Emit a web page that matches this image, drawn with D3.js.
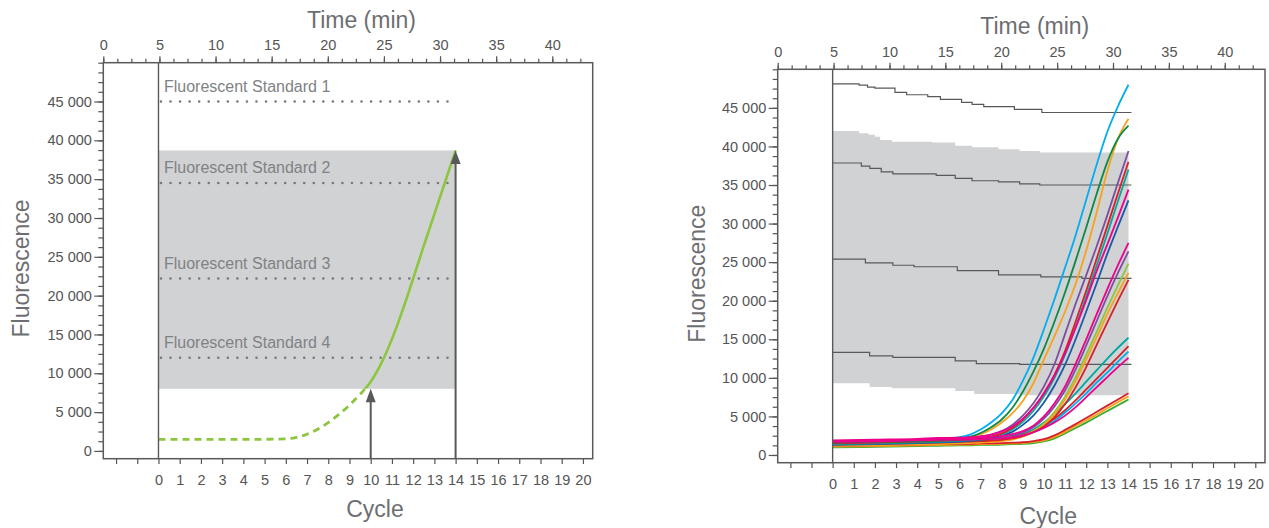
<!DOCTYPE html>
<html><head><meta charset="utf-8">
<script src="https://cdn.jsdelivr.net/npm/d3@7"></script>
<style>
body{margin:0;background:#fff;}
svg{display:block;font-family:"Liberation Sans",Arial,Helvetica,sans-serif;}
</style></head><body>
<svg id="chart" width="1269" height="528"></svg>
<script>
// ---------------- DATA ----------------
const timeMajorTicks = [0, 5, 10, 15, 20, 25, 30, 35, 40];
const timeMinorTicks = d3.range(0, 43.6, 1.25);
const fluorMajorTicks = [0, 5000, 10000, 15000, 20000, 25000, 30000, 35000, 40000, 45000];
const fluorMinorTicks = d3.range(0, 50001, 1250);
const cycleTicks = [-2, -1, 0, 1, 2, 3, 4, 5, 6, 7, 8, 9, 10, 11, 12, 13, 14, 15, 16, 17, 18, 19, 20];

// Left panel
const standardNames = ["Fluorescent Standard 1", "Fluorescent Standard 2", "Fluorescent Standard 3", "Fluorescent Standard 4"];
const standardLevels = [45000, 34500, 22200, 12000];
const acceptBand = [8000, 38700];          // grey band (fluorescence)
const bandCycles = [0, 14];                // grey band (cycles)
const greenCycles = [0, 1, 2, 3, 4, 5, 6, 6.5, 7, 7.5, 8, 8.5, 9, 9.5, 10, 10.5, 11, 11.5, 12, 12.5, 13, 13.5, 14];
const greenValues = [1500, 1500, 1480, 1480, 1490, 1500, 1550, 1750, 2150, 2800, 3650, 4700, 5900, 7300, 8900, 11300, 14400, 18100, 22200, 26400, 30500, 34600, 38700];
const arrowCycles = [10, 14];
const arrowTargets = [8000, 38700];

// Right panel: step lines (cycle, fluorescence)
const standard1Steps = [[0,48100],[1.25,47950],[1.65,47700],[2.0,47550],[2.95,47000],[3.5,46700],[4.5,46450],[5.1,46100],[6.1,45700],[6.6,45450],[7.15,45150],[8.6,44800],[9.9,44400],[14.14,44400]];
const standard2Steps = [[0,37850],[1.36,37450],[1.76,37150],[2.3,36700],[2.85,36450],[4.9,36250],[5.8,35850],[6.6,35550],[7.85,35400],[8.85,35150],[9.8,35000],[14.14,35000]];
const standard3Steps = [[0,25400],[1.55,24900],[2.85,24600],[3.85,24400],[5.9,23900],[7.85,23350],[9.85,23100],[11.8,22900],[14.14,22900]];
const standard4Steps = [[0,13300],[1.75,12850],[2.85,12650],[5.8,12200],[6.8,11850],[8.85,11750],[14.14,11750]];
const bandTopSteps = [[0,42000],[1.25,41700],[1.7,41500],[2.0,41250],[2.25,40850],[2.8,40600],[4.7,40500],[5.8,40100],[6.6,39900],[7.85,39650],[8.85,39400],[9.8,39200],[14,39200]];
const bandBottomSteps = [[0,9300],[1.75,8800],[2.8,8650],[5.8,8300],[6.7,7900],[8.85,7750],[14,7750]];

// Right panel: amplification curves
const curveCycles = [0, 2, 4, 5, 6, 6.5, 7, 7.5, 8, 8.5, 9, 9.5, 10, 10.5, 11, 11.5, 12, 12.5, 13, 13.5, 14];
const green5  = [1000,1050,1150,1200,1250,1250,1300,1300,1350,1400,1450,1550,1750,2150,2800,3500,4200,4950,5700,6450,7200];
const orange5 = [1100,1150,1250,1300,1350,1350,1400,1400,1450,1500,1550,1700,1900,2350,3000,3750,4500,5250,6050,6850,7600];
const red5    = [1200,1250,1350,1400,1450,1450,1500,1500,1550,1600,1650,1800,2050,2550,3250,4000,4800,5600,6400,7200,8000];
const teal4   = [1500,1550,1700,1750,1850,1900,1950,2000,2100,2300,2700,3300,4200,5300,6600,8000,9500,11000,12500,13900,15200];
const red4    = [1600,1650,1800,1850,1950,1950,2000,2050,2150,2300,2600,3100,3800,4700,5800,7100,8500,9900,11300,12700,14100];
const cyan4   = [1400,1450,1600,1650,1750,1800,1850,1900,2000,2200,2500,2950,3600,4400,5500,6700,8000,9400,10700,12100,13400];
const purple3 = [1600,1700,1800,1900,1950,2000,2050,2150,2250,2500,2900,3600,4700,6300,8400,11100,14200,17400,20600,23600,26400];
const lgreen3 = [1300,1350,1450,1500,1600,1650,1700,1800,1900,2100,2500,3100,4100,5600,7600,10100,13000,16000,19100,22000,24800];
const orange3 = [1200,1250,1350,1400,1500,1550,1600,1700,1800,2000,2400,3000,3900,5300,7200,9600,12400,15300,18300,21000,23600];
const red3    = [1400,1450,1550,1600,1700,1750,1800,1850,1950,2150,2450,2950,3700,4900,6600,8800,11400,14300,17200,20000,22700];
const purple2 = [1700,1800,1950,2050,2150,2250,2400,2650,3100,3900,5100,6700,8900,11800,15700,19600,23300,27100,31100,35300,39400];
const red2    = [1500,1600,1750,1850,1950,2050,2150,2400,2800,3500,4600,6100,8000,10400,13500,17300,21300,25500,29700,33900,38000];
const teal2   = [1400,1500,1650,1750,1850,1950,2050,2300,2700,3300,4300,5700,7600,10000,13000,16600,20500,24600,28700,32900,37000];
const blue2   = [1300,1400,1550,1650,1750,1850,1950,2150,2500,3000,3900,5100,6800,9000,11700,15000,18600,22300,26100,29600,33000];
const cyan1   = [1800,1900,2000,2100,2300,2650,3300,4200,5400,7100,9600,12600,16300,20200,24300,28500,33100,37700,41900,45200,48000];
const green1  = [1600,1700,1800,1900,2100,2350,2850,3600,4600,6100,8200,10800,13800,17300,21100,25200,29500,33900,38000,41000,42700];
const orange1 = [1700,1800,1900,2000,2150,2350,2700,3300,4200,5400,7000,9300,12400,15400,18600,22200,26500,31500,36800,41000,43600];
const magenta4 = [1700,1750,1900,1950,2000,2000,2050,2100,2150,2300,2550,2950,3500,4200,5100,6200,7500,8800,10100,11400,12600];
const magenta3 = [1800,1900,2000,2100,2150,2200,2250,2350,2450,2700,3100,3800,5000,6700,8900,11800,15000,18300,21500,24600,27500];
const magenta2 = [1900,2000,2100,2200,2250,2300,2400,2650,3050,3700,4700,6100,8000,10300,13200,16500,20100,23900,27300,30800,34400];

const rightSeries = [green5, orange5, red5, teal4, red4, cyan4, lgreen3, orange3, red3, purple3, blue2, teal2, red2, purple2, orange1, green1, cyan1, magenta4, magenta3, magenta2];
const rightColors = ["#3aaa35", "#f7a21b", "#d7202a", "#00a99d", "#d7202a", "#00aeef", "#8dc63f", "#f7a21b", "#d7202a", "#7d4e9e", "#1a5aa8", "#00a99d", "#d7202a", "#7d4e9e", "#f7a21b", "#0b8a46", "#00aeef", "#ec008c", "#ec008c", "#ec008c"];

// ---------------- LAYOUT ----------------
const svg = d3.select("#chart");
const TICK = "#555";
const LABEL = "#555";
const TITLE = "#6d6e71";
const GREY = "#d1d2d4";
const fmt = d => d3.format(",")(d).replace(/,/g, " ");

const panels = [
  {x0: 103.3, x1: 592.7, y0: 62.7, y1: 458.7, cycleTitleOff: 58, fluorTitleOff: 74.5},
  {x0: 777.7, x1: 1265, y0: 69.3, y1: 462.7, cycleTitleOff: 61, fluorTitleOff: 73}
];

function buildPanel(p) {
  const g = svg.append("g");
  const time = d3.scaleLinear().domain([0, 43.6]).range([p.x0, p.x1]);
  const cyc = d3.scaleLinear().domain([-2.6, 20.46]).range([p.x0, p.x1]);
  const y = d3.scaleLinear().domain([-1000, 50000]).range([p.y1, p.y0]);

  const styleAxis = sel => {
    sel.select(".domain").remove();
    sel.selectAll(".tick line").attr("stroke", TICK).attr("stroke-width", 1.2);
    sel.selectAll(".tick text").attr("fill", LABEL).style("font-size", "14.5px").style("font-family", "'Liberation Sans',Arial,sans-serif");
  };

  // top time axis
  g.append("g").attr("transform", `translate(0,${p.y0})`)
    .call(d3.axisTop(time).tickValues(timeMinorTicks).tickSize(4).tickFormat("")).call(styleAxis);
  g.append("g").attr("transform", `translate(0,${p.y0})`)
    .call(d3.axisTop(time).tickValues(timeMajorTicks).tickSize(6.5).tickPadding(6)).call(styleAxis);
  // left fluorescence axis
  g.append("g").attr("transform", `translate(${p.x0},0)`)
    .call(d3.axisLeft(y).tickValues(fluorMinorTicks).tickSize(5).tickFormat("")).call(styleAxis);
  g.append("g").attr("transform", `translate(${p.x0},0)`)
    .call(d3.axisLeft(y).tickValues(fluorMajorTicks).tickSize(9).tickPadding(2.4).tickFormat(fmt)).call(styleAxis);
  // bottom cycle axis
  g.append("g").attr("transform", `translate(0,${p.y1})`)
    .call(d3.axisBottom(cyc).tickValues(cycleTicks).tickSize(5.3).tickPadding(10.8).tickFormat(d => d >= 0 ? d : "")).call(styleAxis);

  // titles
  g.append("text").attr("x", time(23)).attr("y", p.y0 - 35).attr("text-anchor", "middle")
    .attr("fill", TITLE).style("font-size", "23px").text("Time (min)");
  g.append("text").attr("x", cyc(10.2)).attr("y", p.y1 + p.cycleTitleOff).attr("text-anchor", "middle")
    .attr("fill", TITLE).style("font-size", "23px").text("Cycle");
  g.append("text").attr("transform", `translate(${p.x0 - p.fluorTitleOff},${(p.y0 + p.y1) / 2 + 7.7}) rotate(-90)`)
    .attr("text-anchor", "middle").attr("fill", TITLE).style("font-size", "23px").text("Fluorescence");

  return {g, time, cyc, y};
}

// ---------- LEFT PANEL ----------
(function () {
  const p = panels[0];
  const {g, cyc, y} = buildPanel(p);
  const plot = g.append("g");
  // grey band
  plot.append("rect").attr("x", cyc(bandCycles[0])).attr("y", y(acceptBand[1]))
    .attr("width", cyc(bandCycles[1]) - cyc(bandCycles[0])).attr("height", y(acceptBand[0]) - y(acceptBand[1]))
    .attr("fill", GREY);
  // standards
  standardLevels.forEach((lv, i) => {
    plot.append("line").attr("x1", cyc(0) + 2.5).attr("x2", cyc(14)).attr("y1", y(lv)).attr("y2", y(lv))
      .attr("stroke", "#77787b").attr("stroke-width", 2.6).attr("stroke-linecap", "round")
      .attr("stroke-dasharray", "0 9.55");
    plot.append("text").attr("x", cyc(0) + 5.5).attr("y", y(lv) - 10).attr("fill", "#808285")
      .style("font-size", "16px").text(standardNames[i]);
  });
  // clip regions for the curve
  const defs = svg.append("defs");
  defs.append("clipPath").attr("id", "clipAbove").append("rect")
    .attr("x", p.x0).attr("y", p.y0).attr("width", p.x1 - p.x0).attr("height", y(acceptBand[0]) - p.y0);
  defs.append("clipPath").attr("id", "clipBelow").append("rect")
    .attr("x", p.x0).attr("y", y(acceptBand[0])).attr("width", p.x1 - p.x0).attr("height", p.y1 - y(acceptBand[0]));
  const pts = greenCycles.map((c, i) => [c, greenValues[i]]);
  const line = d3.line().x(d => cyc(d[0])).y(d => y(d[1])).curve(d3.curveMonotoneX);
  plot.append("path").attr("d", line(pts)).attr("fill", "none").attr("stroke", "#8cc63f")
    .attr("stroke-width", 2.8).attr("stroke-dasharray", "7 5").attr("clip-path", "url(#clipBelow)");
  plot.append("path").attr("d", line(pts)).attr("fill", "none").attr("stroke", "#8cc63f")
    .attr("stroke-width", 2.6).attr("clip-path", "url(#clipAbove)");
  // cycle 0 vertical line
  plot.append("line").attr("x1", cyc(0)).attr("x2", cyc(0)).attr("y1", p.y0).attr("y2", p.y1)
    .attr("stroke", "#58595b").attr("stroke-width", 1.4);
  // arrows
  arrowCycles.forEach((c, i) => {
    const x = cyc(c), tip = y(arrowTargets[i]), head = 13.5;
    plot.append("line").attr("x1", x).attr("x2", x).attr("y1", p.y1).attr("y2", tip + head - 1)
      .attr("stroke", "#58595b").attr("stroke-width", 2);
    plot.append("path").attr("d", `M${x},${tip} L${x - 5},${tip + head} L${x + 5},${tip + head} Z`).attr("fill", "#58595b");
  });
  // frame
  g.append("rect").attr("x", p.x0).attr("y", p.y0).attr("width", p.x1 - p.x0).attr("height", p.y1 - p.y0)
    .attr("fill", "none").attr("stroke", "#58595b").attr("stroke-width", 1.5);
})();

// ---------- RIGHT PANEL ----------
(function () {
  const p = panels[1];
  const {g, cyc, y} = buildPanel(p);
  const plot = g.append("g");
  const stepFwd = d3.line().x(d => cyc(d[0])).y(d => y(d[1])).curve(d3.curveStepAfter);
  const stepBack = d3.line().x(d => cyc(d[0])).y(d => y(d[1])).curve(d3.curveStepBefore);
  const topPath = stepFwd(bandTopSteps);
  const botPath = stepBack(bandBottomSteps.slice().reverse());
  plot.append("path").attr("d", topPath + "L" + botPath.slice(1) + "Z").attr("fill", GREY);
  [standard1Steps, standard2Steps, standard3Steps, standard4Steps].forEach(s => {
    plot.append("path").attr("d", stepFwd(s)).attr("fill", "none").attr("stroke", "#58595b").attr("stroke-width", 1.2);
  });
  const curve = d3.line().x((d, i) => cyc(curveCycles[i])).y(d => y(d)).curve(d3.curveMonotoneX);
  rightSeries.forEach((s, i) => {
    plot.append("path").attr("d", curve(s)).attr("fill", "none").attr("stroke", rightColors[i]).attr("stroke-width", 1.8);
  });
  plot.append("line").attr("x1", cyc(0)).attr("x2", cyc(0)).attr("y1", p.y0).attr("y2", p.y1)
    .attr("stroke", "#58595b").attr("stroke-width", 1.4);
  g.append("rect").attr("x", p.x0).attr("y", p.y0).attr("width", p.x1 - p.x0).attr("height", p.y1 - p.y0)
    .attr("fill", "none").attr("stroke", "#58595b").attr("stroke-width", 1.5);
})();
</script>
</body></html>
